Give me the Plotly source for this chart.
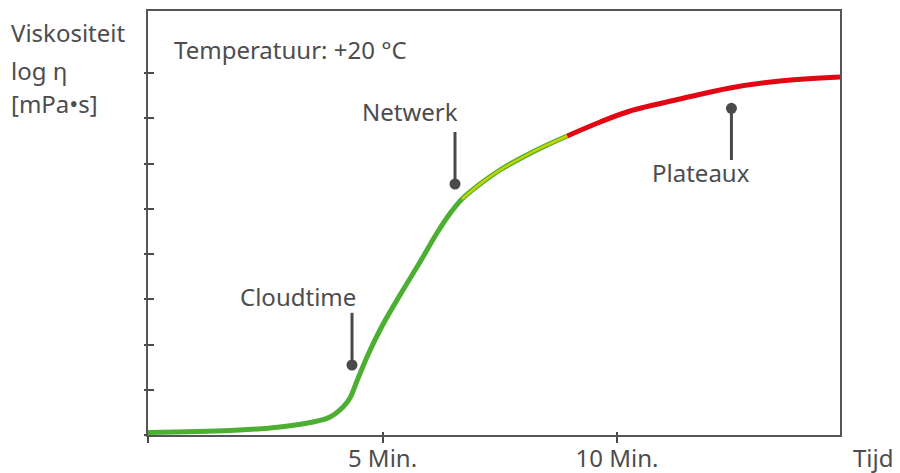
import plotly.graph_objects as go

# Curve (time in minutes, log viscosity in tick units)
time_min = [0.0, 1.748, 2.814, 3.518, 3.881, 4.158, 4.307, 4.456, 4.670, 4.983, 5.437,
            5.800, 6.162, 6.439, 6.695, 7.079, 7.505, 7.996, 8.465, 8.940, 9.642,
            10.277, 11.343, 12.409, 13.475, 14.755]
log_visc = [0.055, 0.099, 0.177, 0.287, 0.398, 0.619, 0.818, 1.193, 1.724, 2.393, 3.204,
            3.823, 4.464, 4.895, 5.215, 5.547, 5.856, 6.144, 6.387, 6.608, 6.917,
            7.160, 7.425, 7.669, 7.823, 7.912]
# segment boundaries (indices into the curve)
netwerk_start = 14
plateau_start = 19

# Pins: label, dot position, pin end, label position
pin_labels = ["Cloudtime", "Netwerk", "Plateaux"]
pin_x = [4.35, 6.546, 12.44]
pin_dot_y = [1.547, 5.547, 7.22]
pin_end_y = [2.70, 6.696, 6.077]
label_y = [3.05, 7.16, 5.81]
label_dx = [-54, -45, -30]

x_tickvals = [0, 5, 10]
x_ticktext = ["", "5 Min.", "10 Min."]
y_tickvals = [0, 1, 2, 3, 4, 5, 6, 7, 8]

GREEN = "#4caf32"
YELLOW = "#c8d200"
RED = "#e30613"
DARK = "#4a4a4a"
TXT = "#4d4d4d"
FONT = "Noto Sans"
FS = 24

fig = go.Figure()

fig.add_trace(go.Scatter(x=time_min[:plateau_start + 1], y=log_visc[:plateau_start + 1],
                         mode="lines", line=dict(color=GREEN, width=5, shape="spline"),
                         hoverinfo="skip", showlegend=False))
fig.add_trace(go.Scatter(x=time_min[netwerk_start:plateau_start + 1],
                         y=log_visc[netwerk_start:plateau_start + 1],
                         mode="lines", line=dict(color=YELLOW, width=2.5, shape="spline"),
                         hoverinfo="skip", showlegend=False))
fig.add_trace(go.Scatter(x=time_min[plateau_start:], y=log_visc[plateau_start:],
                         mode="lines", line=dict(color=RED, width=5, shape="spline"),
                         hoverinfo="skip", showlegend=False))

stem_x, stem_y = [], []
for px, d, e in zip(pin_x, pin_dot_y, pin_end_y):
    stem_x += [px, px, None]
    stem_y += [d, e, None]
fig.add_trace(go.Scatter(x=stem_x, y=stem_y, mode="lines",
                         line=dict(color=DARK, width=3), hoverinfo="skip", showlegend=False))
fig.add_trace(go.Scatter(x=pin_x, y=pin_dot_y, mode="markers",
                         marker=dict(color=DARK, size=11), hoverinfo="skip", showlegend=False))

fig.add_trace(go.Scatter(x=[0], y=[0], xaxis="x2", yaxis="y2", mode="markers",
                         marker=dict(opacity=0), hoverinfo="skip", showlegend=False))

for lab, px, ly, dx in zip(pin_labels, pin_x, label_y, label_dx):
    fig.add_annotation(x=px, y=ly, text=lab, showarrow=False, xanchor="center",
                       yanchor="middle", xshift=dx,
                       font=dict(family=FONT, size=FS, color=TXT))

PW, PH = 692, 424
ML, MT = 148, 11
BOTTOM = MT + PH

fig.add_annotation(xref="paper", yref="paper", x=(172 - ML) / PW, y=(BOTTOM - 50) / PH,
                   text="Temperatuur: +20 °C", showarrow=False, xanchor="left",
                   yanchor="middle", font=dict(family=FONT, size=FS, color=TXT))

for txt, ypix in [("Viskositeit", 32), ("log η", 71), ("[mPa•s]", 104)]:
    fig.add_annotation(xref="paper", yref="paper", x=(9 - ML) / PW,
                       y=(BOTTOM - ypix) / PH, text=txt, showarrow=False,
                       xanchor="left", yanchor="middle",
                       font=dict(family=FONT, size=FS, color=TXT))

fig.add_annotation(xref="paper", yref="paper", x=(873 - ML) / PW, y=-(457 - BOTTOM) / PH,
                   text="Tijd", showarrow=False, xanchor="center", yanchor="middle",
                   font=dict(family=FONT, size=FS, color=TXT))

fig.update_layout(
    width=900, height=473,
    margin=dict(l=ML, r=60, t=MT, b=473 - BOTTOM, autoexpand=False),
    plot_bgcolor="white", paper_bgcolor="white",
    font=dict(family=FONT, size=FS, color=TXT),
    xaxis=dict(range=[0, 14.755], showgrid=False, zeroline=False, automargin=False,
               showline=True, linecolor="#555555", linewidth=2, mirror=True,
               ticks="outside", ticklen=6, tickwidth=2, tickcolor=DARK,
               tickvals=x_tickvals, ticktext=x_ticktext, ticklabelstandoff=-5,
               tickfont=dict(family=FONT, size=FS, color=TXT)),
    yaxis=dict(range=[0, 9.37], showgrid=False, zeroline=False, automargin=False,
               showline=True, linecolor="#555555", linewidth=2, mirror=True,
               ticks="outside", ticklen=2, tickwidth=2, tickcolor=DARK,
               tickvals=y_tickvals, showticklabels=False),
    xaxis2=dict(range=[0, 14.755], overlaying="x", showgrid=False, zeroline=False,
                automargin=False,
                showline=False, ticks="inside", ticklen=3, tickwidth=2, tickcolor=DARK,
                tickvals=x_tickvals, showticklabels=False, side="bottom"),
    yaxis2=dict(range=[0, 9.37], overlaying="y", showgrid=False, zeroline=False,
                automargin=False,
                showline=False, ticks="inside", ticklen=6, tickwidth=2, tickcolor=DARK,
                tickvals=y_tickvals, showticklabels=False, side="left"),
)

fig.write_html("out.html", config={"displayModeBar": False},
               post_script="document.body.style.margin='0';document.body.style.overflow='hidden';")
